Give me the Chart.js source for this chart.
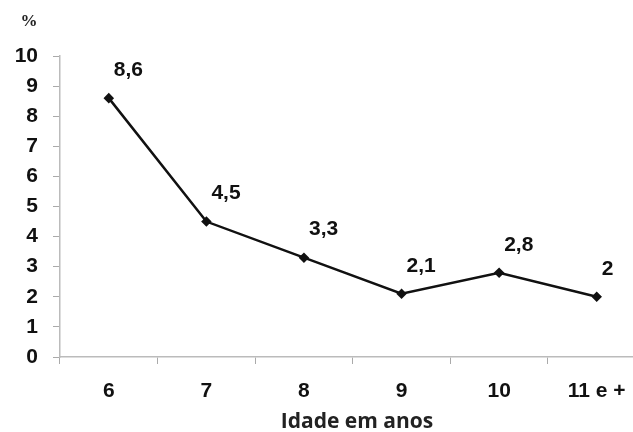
<!DOCTYPE html>
<html><head><meta charset="utf-8">
<script src="https://cdn.jsdelivr.net/npm/chart.js@4.4.0/dist/chart.umd.min.js"></script>
<style>html,body{margin:0;padding:0;background:#fff;overflow:hidden}#wrap{width:652px;height:432px;position:relative}</style>
</head><body><div id="wrap"><canvas id="c" width="652" height="432"></canvas></div>
<script>
const categories = ["6", "7", "8", "9", "10", "11 e +"];
const values = [8.6, 4.5, 3.3, 2.1, 2.8, 2];
const valueLabels = ["8,6", "4,5", "3,3", "2,1", "2,8", "2"];
const yTicks = [0,1,2,3,4,5,6,7,8,9,10];
const xTitle = "Idade em anos";
const yUnit = "%";

const labelPlugin = {
  id: 'labels',
  afterDatasetsDraw(chart) {
    const ctx = chart.ctx;
    const meta = chart.getDatasetMeta(0);
    ctx.save();
    ctx.fillStyle = '#111';
    ctx.font = 'bold 21px "Liberation Sans", Arial, sans-serif';
    ctx.textAlign = 'left';
    ctx.textBaseline = 'middle';
    meta.data.forEach((pt, i) => {
      ctx.fillText(valueLabels[i], pt.x + 5, pt.y - 28);
    });
    ctx.textAlign = 'center';
    ctx.font = 'bold 21px "Open Sans", sans-serif';
    ctx.fillStyle = '#222';
    ctx.fillText(xTitle, 357, 422);
    ctx.font = 'bold 17px "Liberation Serif", serif';
    ctx.fillStyle = '#222';
    ctx.fillText(yUnit, 29, 22);
    ctx.restore();
  }
};

new Chart(document.getElementById('c'), {
  type: 'line',
  data: {
    labels: categories,
    datasets: [{
      data: values,
      borderColor: '#111',
      borderWidth: 2.5,
      pointStyle: 'rectRot',
      pointRadius: 3.5,
      pointBackgroundColor: '#111',
      pointBorderColor: '#111',
      tension: 0,
      fill: false
    }]
  },
  options: {
    responsive: false,
    animation: false,
    layout: { padding: { top: 56, left: 0, right: 0, bottom: 0 } },
    plugins: { legend: { display: false }, tooltip: { enabled: false } },
    scales: {
      x: {
        offset: true,
        grid: { offset: true, drawOnChartArea: false, drawTicks: true, tickLength: 7, color: '#aaa' },
        border: { color: '#bbb', width: 1.5 },
        ticks: { color: '#111', font: { family: '"Liberation Sans", Arial, sans-serif', size: 21, weight: 'bold' }, padding: 15, maxRotation: 0 },
        afterFit(s) { s.height = 75; }
      },
      y: {
        min: 0, max: 10,
        afterBuildTicks(s) { s.ticks = yTicks.map(v => ({ value: v })); },
        grid: { drawOnChartArea: false, drawTicks: true, tickLength: 7, color: '#aaa' },
        border: { color: '#bbb', width: 1.5 },
        ticks: { color: '#111', font: { family: '"Liberation Sans", Arial, sans-serif', size: 21, weight: 'bold' }, padding: 15 },
        afterFit(s) { s.width = 60; }
      }
    }
  },
  plugins: [labelPlugin]
});
</script></body></html>
